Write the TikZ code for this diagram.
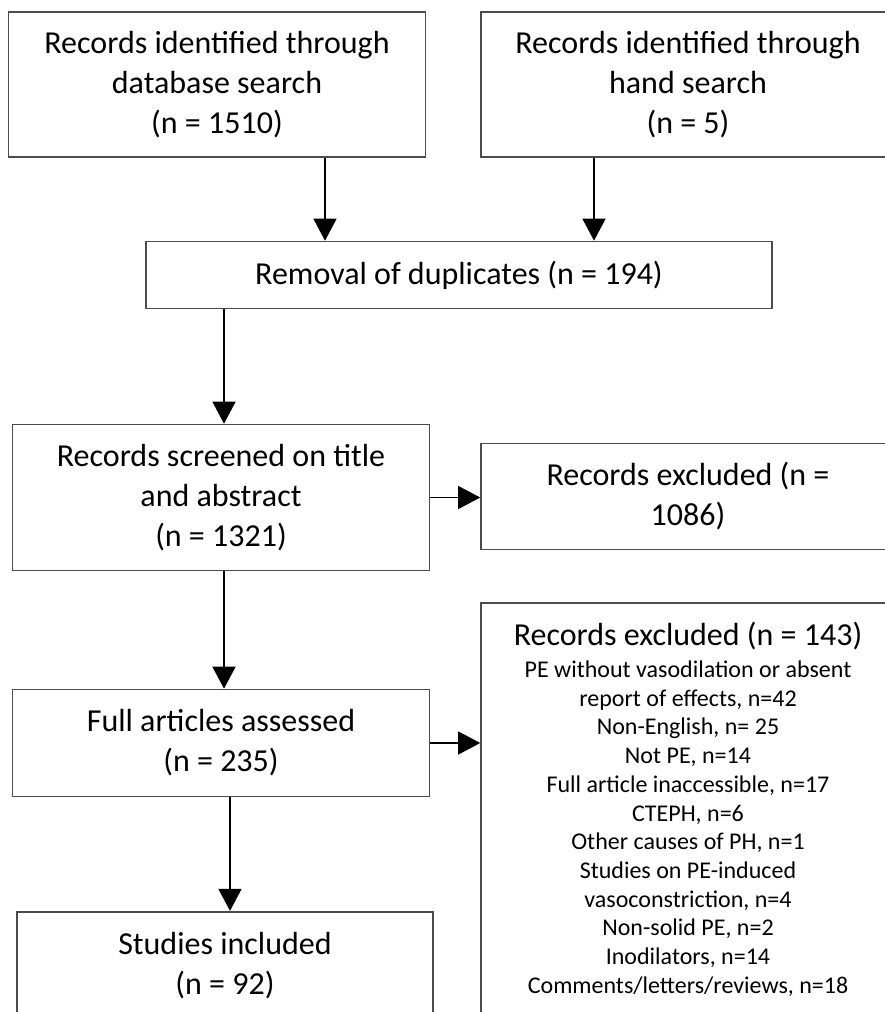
\documentclass[tikz,border=0pt]{standalone}
\usepackage{fontspec}
\setmainfont{Carlito}
\usetikzlibrary{arrows.meta}

\begin{document}
\begin{tikzpicture}[x=1pt,y=-1pt,
    >={Triangle[length=22pt,width=23pt]},
    every edge/.style={draw,->,line width=1.3pt},
    box/.style={draw=black!70,line width=1.6pt,align=center,inner sep=0pt,
      font=\fontsize{32}{40}\selectfont},
    list/.style={font=\fontsize{24}{28.7}\selectfont}]
  \useasboundingbox (0,0) rectangle (885,1012);
  \clip (0,0) rectangle (885,1012);

  \node[box,minimum width=417pt,minimum height=145pt] (db)     at (217,84.5)
    {Records identified through\\database search\\(n = 1510)};
  \node[box,minimum width=414pt,minimum height=145pt] (hand)   at (688,84.5)
    {Records identified through\\hand search\\(n = 5)};
  \node[box,minimum width=626pt,minimum height=67pt]  (dup)    at (459,275)
    {Removal of duplicates (n = 194)};
  \node[box,minimum width=417pt,minimum height=146pt] (screen) at (221,497.5)
    {Records screened on title\\and abstract\\(n = 1321)};
  \node[box,minimum width=414pt,minimum height=106pt] (excl1)  at (688,496.3)
    {Records excluded (n =\\1086)};
  \node[box,list,minimum width=414pt,minimum height=413pt] (excl2)  at (688,809.4)
    {\fontsize{32}{40}\selectfont Records excluded (n = 143)\\[3pt]
     PE without vasodilation or absent\\
     report of effects, n=42\\Non-English, n= 25\\Not PE, n=14\\
     Full article inaccessible, n=17\\CTEPH, n=6\\Other causes of PH, n=1\\
     Studies on PE-induced\\vasoconstriction, n=4\\Non-solid PE, n=2\\
     Inodilators, n=14\\Comments/letters/reviews, n=18};
  \node[box,minimum width=417pt,minimum height=107pt] (full)   at (221,743)
    {Full articles assessed\\(n = 235)};
  \node[box,minimum width=416pt,minimum height=108pt] (incl)   at (225,965.7)
    {Studies included\\(n = 92)};

  \path ([xshift=108pt]db.south)   edge ([xshift=108pt]db.south |- dup.north)
        ([xshift=-94pt]hand.south) edge ([xshift=-94pt]hand.south |- dup.north)
        ([xshift=3pt]screen.north |- dup.south) edge ([xshift=3pt]screen.north)
        (screen.east)              edge (screen.east -| excl1.west)
        ([xshift=3pt]screen.south) edge ([xshift=3pt]full.north)
        (full.east)                edge (full.east -| excl2.west)
        ([xshift=5pt]incl.north |- full.south) edge ([xshift=5pt]incl.north)
        ;
\end{tikzpicture}
\end{document}
